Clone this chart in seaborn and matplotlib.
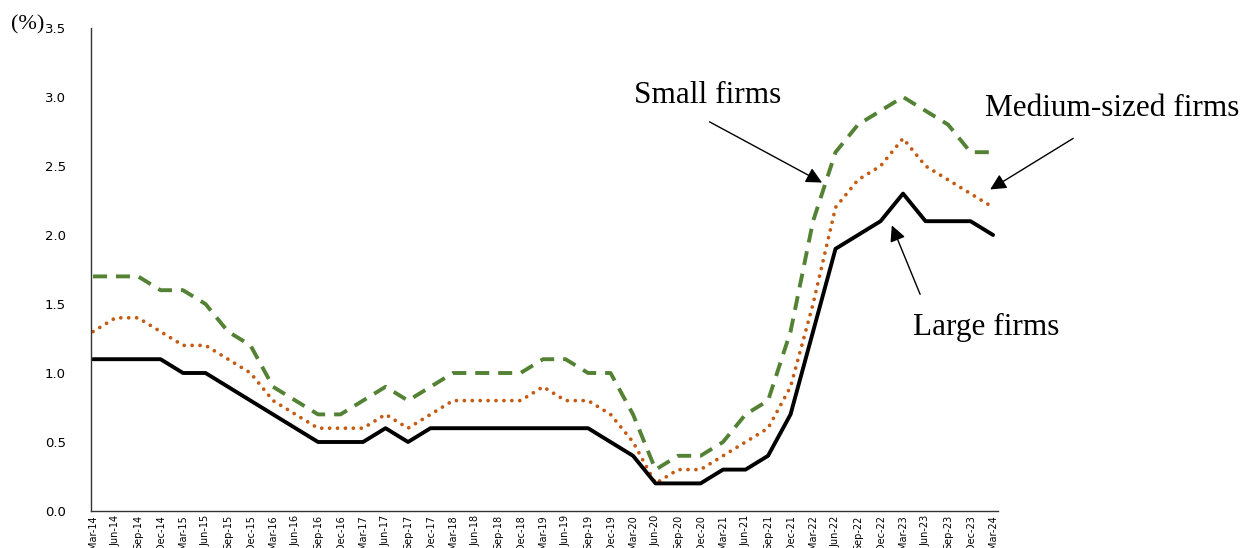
import pandas as pd
import matplotlib
matplotlib.use("Agg")
import matplotlib.pyplot as plt
import seaborn as sns

# quarterly labels, Mar-14 .. Mar-24
quarters = []
for yr in range(14, 25):
    for m in ["Mar", "Jun", "Sep", "Dec"]:
        quarters.append(f"{m}-{yr}")
quarters = quarters[:41]

large = [1.1, 1.1, 1.1, 1.1, 1.0, 1.0, 0.9, 0.8, 0.7, 0.6, 0.5, 0.5, 0.5, 0.6, 0.5, 0.6,
         0.6, 0.6, 0.6, 0.6, 0.6, 0.6, 0.6, 0.5, 0.4, 0.2, 0.2, 0.2, 0.3, 0.3, 0.4, 0.7,
         1.3, 1.9, 2.0, 2.1, 2.3, 2.1, 2.1, 2.1, 2.0]
medium = [1.3, 1.4, 1.4, 1.3, 1.2, 1.2, 1.1, 1.0, 0.8, 0.7, 0.6, 0.6, 0.6, 0.7, 0.6, 0.7,
          0.8, 0.8, 0.8, 0.8, 0.9, 0.8, 0.8, 0.7, 0.5, 0.2, 0.3, 0.3, 0.4, 0.5, 0.6, 0.9,
          1.5, 2.2, 2.4, 2.5, 2.7, 2.5, 2.4, 2.3, 2.2]
small = [1.7, 1.7, 1.7, 1.6, 1.6, 1.5, 1.3, 1.2, 0.9, 0.8, 0.7, 0.7, 0.8, 0.9, 0.8, 0.9,
         1.0, 1.0, 1.0, 1.0, 1.1, 1.1, 1.0, 1.0, 0.7, 0.3, 0.4, 0.4, 0.5, 0.7, 0.8, 1.3,
         2.1, 2.6, 2.8, 2.9, 3.0, 2.9, 2.8, 2.6, 2.6]

df = pd.DataFrame({"t": range(len(quarters)), "Large": large,
                   "Medium": medium, "Small": small})

sns.set_style("white")
plt.rcParams["text.color"] = "black"

fig = plt.figure(figsize=(12.47, 5.48), dpi=100)
ax = fig.add_axes([91 / 1247, 37 / 548, 907 / 1247, 483 / 548])

sns.lineplot(data=df, x="t", y="Small", ax=ax, color="#548235", lw=2.8)
ax.lines[-1].set_dashes((3.6, 2.3))
sns.lineplot(data=df, x="t", y="Medium", ax=ax, color="#C55A11", lw=2.7)
ax.lines[-1].set_linestyle((0, (0.01, 2.1)))
ax.lines[-1].set_dash_capstyle("round")
sns.lineplot(data=df, x="t", y="Large", ax=ax, color="black", lw=2.8)

ax.set_xlim(-0.09, 40.22)
ax.set_ylim(0, 3.5)
ax.set_yticks([0, 0.5, 1.0, 1.5, 2.0, 2.5, 3.0, 3.5])
ax.set_yticklabels([f"{v:.1f}" for v in ax.get_yticks()], fontsize=9.5)
ax.set_xticks(range(len(quarters)))
ax.set_xticklabels(quarters, rotation=90, fontsize=7)
ax.set_xlabel("")
ax.set_ylabel("")
ax.tick_params(axis="y", direction="in", length=5, width=1, pad=18,
               colors="#333333", labelcolor="black")
ax.tick_params(axis="x", direction="in", length=4, width=1, pad=3,
               colors="#333333", labelcolor="black")
for side in ["top", "right"]:
    ax.spines[side].set_visible(False)
for side in ["left", "bottom"]:
    ax.spines[side].set_color("#333333")
    ax.spines[side].set_linewidth(1)

serif = ["Liberation Serif", "DejaVu Serif"]
fig.text(28 / 1247, 1 - 25 / 548, "(%)", family=serif, fontsize=16,
         ha="center", va="center")

arrow = dict(arrowstyle="-|>", mutation_scale=24, lw=1, color="black",
             shrinkA=0, shrinkB=0)
ax.annotate("", xy=(32.4, 2.38), xytext=(27.4, 2.82), arrowprops=arrow,
            annotation_clip=False)
ax.text(27.3, 3.01, "Small firms", family=serif, fontsize=22.5,
        ha="center", va="center")
ax.annotate("", xy=(39.87, 2.33), xytext=(43.56, 2.70), arrowprops=arrow,
            annotation_clip=False)
ax.text(45.3, 2.92, "Medium-sized firms", family=serif, fontsize=22.5,
        ha="center", va="center", clip_on=False)
ax.annotate("", xy=(35.5, 2.07), xytext=(36.76, 1.57), arrowprops=arrow,
            annotation_clip=False)
ax.text(39.7, 1.33, "Large firms", family=serif, fontsize=22.5,
        ha="center", va="center")

fig.savefig("out.png", dpi=100)
